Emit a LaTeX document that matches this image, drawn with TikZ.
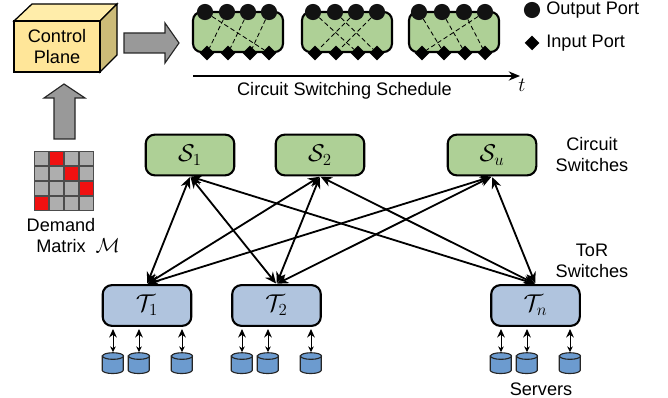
\documentclass[tikz,border=0pt]{standalone}
\usepackage{amsmath}
\usepackage{amssymb}
\usepackage{fontspec}
\setmainfont{Liberation Sans}
\usetikzlibrary{shapes.geometric,arrows.meta}

\definecolor{swgreen}{RGB}{174,208,150}
\definecolor{torblue}{RGB}{176,196,222}
\definecolor{srvblue}{RGB}{108,155,207}
\definecolor{cubeyellow}{RGB}{255,230,153}
\definecolor{cubeside}{RGB}{204,187,120}
\definecolor{cubetop}{RGB}{255,237,170}
\definecolor{arrowgray}{RGB}{153,153,153}
\definecolor{cellgray}{RGB}{174,174,174}
\definecolor{cellred}{RGB}{240,16,16}

\tikzset{
  switchbox/.style={draw=black,line width=1.5pt,rounded corners=6.5pt,minimum width=63pt,minimum height=29pt,inner sep=0pt,font=\fontsize{17}{20}\selectfont},
  circuitsw/.style={switchbox,fill=swgreen},
  torsw/.style={switchbox,fill=torblue},
  schedbox/.style={draw=black,line width=1.5pt,rounded corners=6pt,fill=swgreen,minimum width=64pt,minimum height=28.5pt,inner sep=0pt},
  outport/.style={circle,fill=black!93,draw=none,minimum size=11.5pt,inner sep=0pt},
  inport/.style={diamond,fill=black,draw=none,minimum size=10.5pt,inner sep=0pt},
  link/.style={line width=1.3pt,{Stealth[length=8pt,width=7pt]}-{Stealth[length=8pt,width=7pt]},shorten <=0.5pt,shorten >=0.5pt},
  srvlink/.style={line width=0.7pt,{Stealth[length=6pt,width=5.5pt]}-{Stealth[length=4pt,width=4pt]},shorten <=1.5pt,shorten >=0.5pt},
  server/.style={minimum width=14.9pt,minimum height=14.9pt,inner sep=0pt},
  srvshape/.style={draw=black!85,line width=0.8pt,fill=srvblue},
  wire/.style={line width=0.6pt,dash pattern=on 3.2pt off 2pt},
  cell/.style={draw=black!70,line width=0.6pt,minimum size=10pt,inner sep=0pt,fill=cellgray},
  hotcell/.style={cell,fill=cellred},
  bigarrow/.style={draw=black!85,line width=0.8pt,fill=arrowgray},
  lbl/.style={inner sep=0pt,align=center,font=\fontsize{12.9}{15}\selectfont}
}

\begin{document}
\begin{tikzpicture}[x=0.025cm,y=-0.025cm]
\useasboundingbox (0,0) rectangle (668,398);

% control plane
\draw[line width=0.9pt,fill=cubetop] (14,21) -- (32,4) -- (117,4) -- (100,21) -- cycle;
\draw[line width=0.9pt,fill=cubeside] (100,21) -- (117,4) -- (117,55) -- (100,72) -- cycle;
\node[lbl,draw=black,line width=0.9pt,fill=cubeyellow,minimum width=61pt,minimum height=36.3pt] (ctrl) at (57,46.5) {Control\\Plane};

\draw[bigarrow] (124,33) -- (165,33) -- (165,23) -- (179,43) -- (165,63) -- (165,53) -- (124,53) -- cycle;
\draw[bigarrow] (54,139) -- (54,98) -- (44,98) -- (64,84) -- (85,98) -- (75,98) -- (75,139) -- cycle;

% schedule boxes
\node[schedbox] (B1) at (238,32) {};
\node[schedbox] (B2) at (347,32) {};
\node[schedbox] (B3) at (454,32) {};

\foreach \b/\xa/\xb/\xc/\xd/\ya/\yb/\yc/\yd in {1/205/227/248/269/207/228/250/269,2/313/335/356/377/315/336/358/377,3/419/442/464/485/422/444/465/485}{
  \node[outport] (O\b1) at (\xa,12) {};
  \node[outport] (O\b2) at (\xb,12) {};
  \node[outport] (O\b3) at (\xc,12) {};
  \node[outport] (O\b4) at (\xd,12) {};
  \node[inport] (I\b1) at (\ya,53) {};
  \node[inport] (I\b2) at (\yb,53) {};
  \node[inport] (I\b3) at (\yc,53) {};
  \node[inport] (I\b4) at (\yd,53) {};
}

\draw[wire] (O11) -- (I14);
\draw[wire] (O12) -- (I11);
\draw[wire] (O13) -- (I12);
\draw[wire] (O14) -- (I13);

\draw[wire] (O21) -- (I23);
\draw[wire] (O22) -- (I24);
\draw[wire] (O23) -- (I21);
\draw[wire] (O24) -- (I22);

\draw[wire] (O31) -- (I32);
\draw[wire] (O32) -- (I33);
\draw[wire] (O33) -- (I34);
\draw[wire] (O34) -- (I31);

% legend
\node[outport] (legout) at (532,10) {};
\node[inport] (legin) at (532,43) {};
\node[lbl,anchor=west] (legouttxt) at (546,10) {Output Port};
\node[lbl,anchor=west] (legintxt) at (546,43) {Input Port};

% time axis
\coordinate (tstart) at (193,76);
\coordinate (tend) at (520,76);
\draw[line width=1.4pt,-{Stealth[length=8pt,width=6.5pt]}] (tstart) -- (tend);
\node[inner sep=0pt,font=\fontsize{15}{18}\selectfont] (tlabel) at (522,85) {$t$};
\node[lbl] (schedtxt) at (344.5,91) {Circuit Switching Schedule};

% demand matrix
\foreach \r in {0,1,2,3}{
  \foreach \c in {0,1,2,3}{
    \node[cell] (M\r\c) at (41.5+15*\c,158.5+15*\r) {};
  }
}
\node[hotcell] (H0) at (M01) {};
\node[hotcell] (H1) at (M12) {};
\node[hotcell] (H2) at (M23) {};
\node[hotcell] (H3) at (M30) {};
\node[lbl] (dem) at (61,225) {Demand};
\node[lbl,anchor=west] (mat) at (36,246) {Matrix~ \fontsize{14}{18}\selectfont $\mathcal{M}$};

% switches
\node[circuitsw] (S1) at (190,155) {$\mathcal{S}_1$};
\node[circuitsw] (S2) at (320,155) {$\mathcal{S}_2$};
\node[circuitsw] (Su) at (492,155) {$\mathcal{S}_u$};
\node[torsw] (T1) at (147,305.5) {$\mathcal{T}_1$};
\node[torsw] (T2) at (276.5,305.5) {$\mathcal{T}_2$};
\node[torsw] (Tn) at (535.5,305.5) {$\mathcal{T}_n$};

\foreach \s in {S1,S2,Su}{
  \foreach \t in {T1,T2,Tn}{
    \draw[link] (\s.south) -- (\t.north);
  }
}

% servers
\foreach \t/\xa/\xb/\xc in {T1/113/139/182,T2/242/268/311,Tn/501/527/570}{
  \node[server] (\t a) at (\xa,363.5) {};
  \node[server] (\t b) at (\xb,363.5) {};
  \node[server] (\t c) at (\xc,363.5) {};
  \foreach \n in {\t a,\t b,\t c}{
    \draw[srvshape] (\n.north west) ++(0,3.3) -- ++(0,14.2) arc[start angle=180,end angle=0,x radius=10.5,y radius=3.3] -- ++(0,-14.2) -- cycle;
    \draw[srvshape] (\n.north) ++(0,3.3) ellipse [x radius=10.5,y radius=3.3];
  }
  \draw[srvlink] (\t.south -| \t a) -- (\t a.north);
  \draw[srvlink] (\t.south -| \t b) -- (\t b.north);
  \draw[srvlink] (\t.south -| \t c) -- (\t c.north);
}

\node[lbl] (cslabel) at (592,154.5) {Circuit\\Switches};
\node[lbl] (torlabel) at (592,260.5) {ToR\\Switches};
\node[lbl] (srvlabel) at (541,389) {Servers};
\end{tikzpicture}
\end{document}
